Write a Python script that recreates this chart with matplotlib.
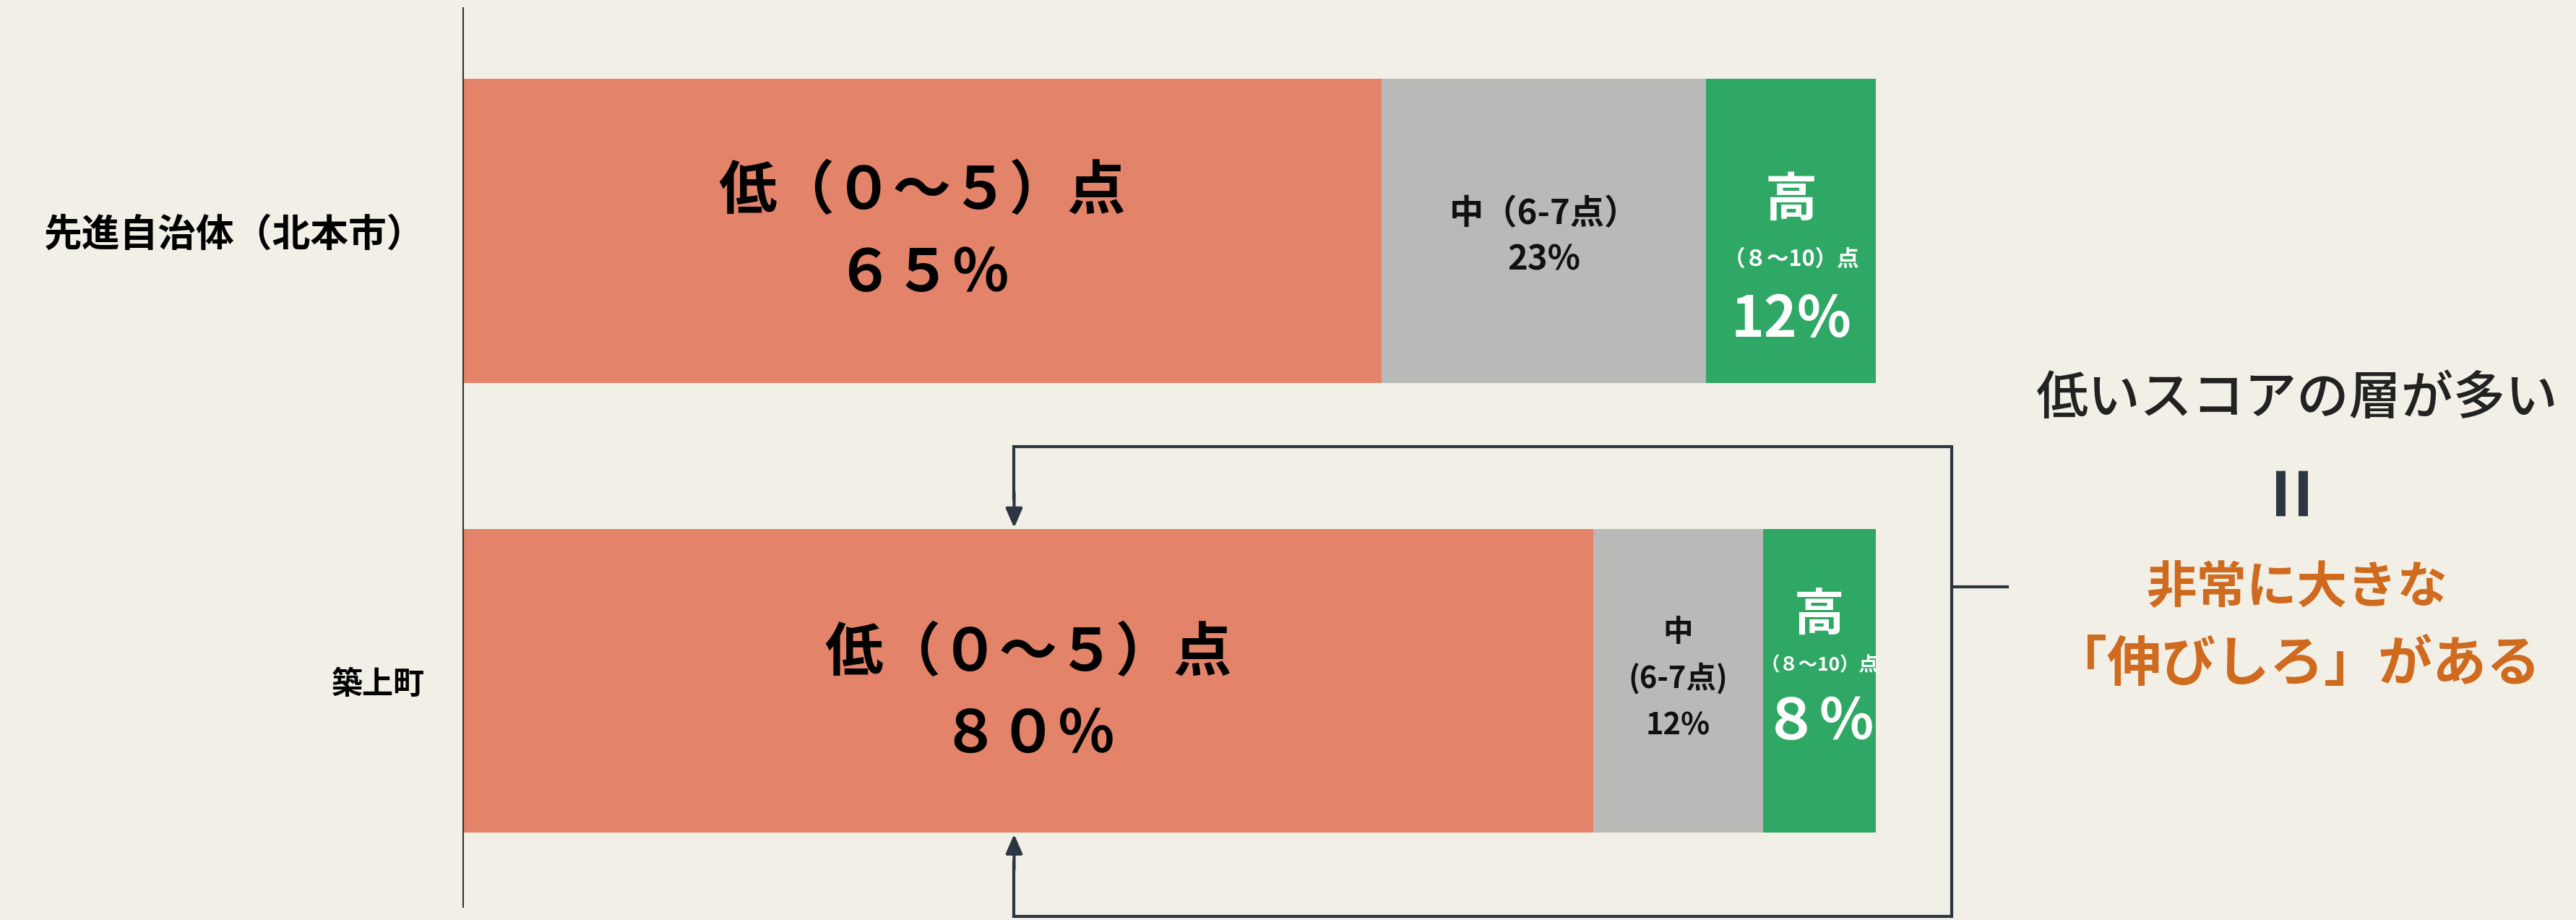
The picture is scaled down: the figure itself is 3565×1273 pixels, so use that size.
import matplotlib.pyplot as plt
import numpy as np

plt.rcParams['font.family'] = ['Noto Sans CJK JP', 'DejaVu Sans']

# data
categories = ['先進自治体（北本市）', '築上町']
low = [65, 80]
mid = [23, 12]
high = [12, 8]
low_labels = [['低（０～５）点', '６５％'], ['低（０～５）点', '８０％']]
mid_labels = [['中（6-7点）', '23%'], ['中', '(6-7点)', '12%']]
high_labels = [['高', '（８～10）点', '12%'], ['高', '（８～10）点', '８％']]

BG = '#F2F0E6'
C_LOW = '#E3836A'
C_MID = '#B9B9B7'
C_HIGH = '#2FA866'
C_LINE = '#2B3640'
C_ORANGE = '#CF6A1F'

fig = plt.figure(figsize=(35.65, 12.73), dpi=100, facecolor=BG)
ax = fig.add_axes([641 / 3565, 0, 1955 / 3565, 1])
ax.set_facecolor(BG)

y = np.arange(len(categories))
h = 0.675
low_a = np.array(low)
mid_a = np.array(mid)
high_a = np.array(high)
ax.barh(y, low_a, height=h, color=C_LOW)
ax.barh(y, mid_a, left=low_a, height=h, color=C_MID)
ax.barh(y, high_a, left=low_a + mid_a, height=h, color=C_HIGH)

ax.set_xlim(0, 100)
ax.set_ylim(1.531, -0.513)
for s in ['top', 'right', 'bottom']:
    ax.spines[s].set_visible(False)
ax.spines['left'].set_bounds(-0.495, 1.502)
ax.spines['left'].set_color('#333333')
ax.spines['left'].set_linewidth(1.5)
ax.set_xticks([])
ax.set_yticks(y)
ax.set_yticklabels(categories, fontweight='bold')
for lbl, fs in zip(ax.get_yticklabels(), [38, 31]):
    lbl.set_fontsize(fs)
ax.tick_params(axis='y', length=0, pad=38)

# text inside segments
low_off = [[-0.086, 0.097], [-0.06, 0.12]]
mid_off = [[-0.038, 0.064], [-0.108, -0.005, 0.1]]
high_off = [[-0.068, 0.064, 0.199], [-0.144, -0.035, 0.093]]
mid_size = [[34, 34], [30, 30, 30]]
high_size = [[52, 22, 56], [50, 19, 56]]

for i in range(len(categories)):
    xc = low_a[i] / 2
    for txt, off in zip(low_labels[i], low_off[i]):
        ax.text(xc, y[i] + off, txt, ha='center', va='center', fontsize=58,
                fontweight='bold', color='black')
    xc = low_a[i] + mid_a[i] / 2
    for txt, off, fs in zip(mid_labels[i], mid_off[i], mid_size[i]):
        ax.text(xc, y[i] + off, txt, ha='center', va='center', fontsize=fs,
                fontweight='bold', color='#111111')
    xc = low_a[i] + mid_a[i] + high_a[i] / 2
    for txt, off, fs in zip(high_labels[i], high_off[i], high_size[i]):
        ax.text(xc, y[i] + off, txt, ha='center', va='center', fontsize=fs,
                fontweight='bold', color='white')

# bracket with arrows
bx = 105.35
ax_x = low_a[1] / 2 - 1.0
top_y, bot_y = 0.48, 1.523
lw = 3
ax.plot([bx, ax_x, ax_x], [top_y, top_y, 0.6], color=C_LINE, lw=lw,
        clip_on=False, solid_capstyle='butt', solid_joinstyle='miter')
ax.plot([bx, bx], [top_y, bot_y], color=C_LINE, lw=lw, clip_on=False,
        solid_capstyle='projecting')
ax.plot([bx, ax_x, ax_x], [bot_y, bot_y, 1.40], color=C_LINE, lw=lw,
        clip_on=False, solid_capstyle='butt', solid_joinstyle='miter')
ax.plot([bx, 109.3], [0.79, 0.79], color=C_LINE, lw=lw, clip_on=False)
arrow = dict(arrowstyle='-|>,head_length=1.6,head_width=0.7', color=C_LINE,
             lw=lw, shrinkA=0, shrinkB=0)
ax.annotate('', xy=(ax_x, 1 - h / 2 - 0.003), xytext=(ax_x, 0.58),
            arrowprops=arrow, annotation_clip=False)
ax.annotate('', xy=(ax_x, 1 + h / 2 + 0.003), xytext=(ax_x, 1.42),
            arrowprops=arrow, annotation_clip=False)

# right side message
tx = 129.8
ax.text(tx, 0.374, '低いスコアの層が多い', ha='center', va='center', fontsize=52,
        color='#222222', fontweight='medium', clip_on=False)
ax.text(tx, 0.575, '=', ha='center', va='center', fontsize=88, rotation=90,
        color=C_LINE, fontweight='bold', clip_on=False)
ax.text(tx, 0.794, '非常に大きな', ha='center', va='center', fontsize=50,
        color=C_ORANGE, fontweight='bold', clip_on=False)
ax.text(tx, 0.965, '「伸びしろ」がある', ha='center', va='center', fontsize=54,
        color=C_ORANGE, fontweight='bold', clip_on=False)

fig.savefig('out.png', dpi=100, facecolor=BG)
